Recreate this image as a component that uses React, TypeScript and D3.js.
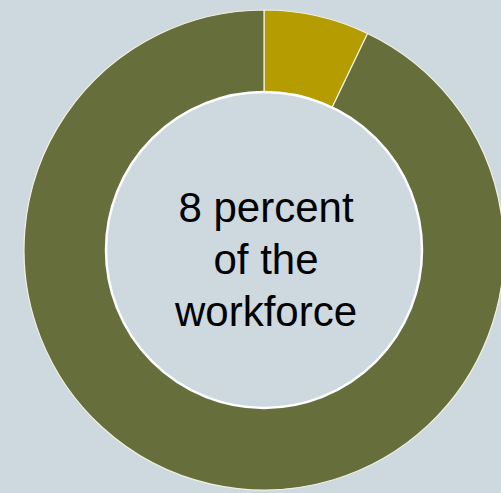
import React, { useEffect } from "react";
import * as d3 from "d3";

const categories = ["Share", "Rest"];
const values = [7.1, 92.9];
const colors = ["#b59c00", "#666f3b"];
const labelLines = ["8 percent", "of the", "workforce"];

const W = 501;
const H = 493;

export default function App() {
  useEffect(() => {
    document.body.style.margin = "0";
  }, []);
  const cx = 264;
  const cy = 250;
  const outerR = 240;
  const innerR = 158;
  const pie = d3.pie<number>().sort(null).value((d) => d)(values);
  const arc = d3.arc<d3.PieArcDatum<number>>().innerRadius(innerR - 2).outerRadius(outerR);
  return (
    <svg width={W} height={H} style={{ position: "absolute", left: 0, top: 0, display: "block" }}>
      <rect width={W} height={H} fill="#cdd8df" />
      <g transform={`translate(${cx},${cy})`}>
        {pie.map((p, i) => (
          <path key={categories[i]} d={arc(p) || ""} fill={colors[i]} stroke="#f2f0e0" strokeWidth={1.2} />
        ))}
        <circle r={innerR} fill="#cdd8df" stroke="#ffffff" strokeWidth={2.5} />
        {labelLines.map((t, i) => (
          <text
            key={t}
            x={2}
            y={-28 + i * 52}
            textAnchor="middle"
            fontFamily="'Liberation Sans', Arial, sans-serif"
            fontSize={42}
            fill="#000"
          >
            {t}
          </text>
        ))}
      </g>
    </svg>
  );
}
